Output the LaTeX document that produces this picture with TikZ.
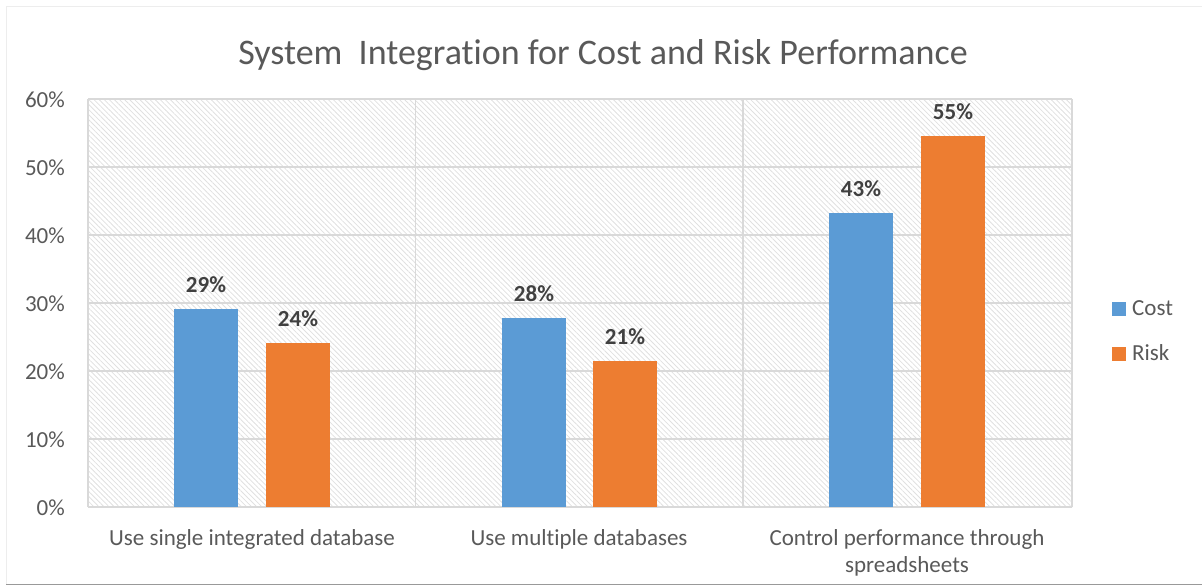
\documentclass[tikz,border=0pt]{standalone}
\usepackage{fontspec}
\setmainfont{Carlito}[Ligatures=NoCommon]
\usetikzlibrary{patterns.meta}
\definecolor{costblue}{HTML}{5B9BD5}
\definecolor{riskorange}{HTML}{ED7D31}
\definecolor{axisgray}{HTML}{595959}
\definecolor{gridgray}{HTML}{D9D9D9}
\definecolor{valgray}{HTML}{404040}
\begin{document}
\begin{tikzpicture}[x=1pt,y=-1pt,
		txt/.style={font=\fontsize{23}{27}\selectfont, text=axisgray, inner sep=0pt},
		val/.style={font=\fontsize{23}{27}\selectfont\bfseries, text=valgray, inner sep=0pt},
		gridline/.style={draw=gridgray, line width=1.5pt}]
			\useasboundingbox (0,0) rectangle (1202,586);
			% chart frame
			\draw[black!7] (6.5,584) -- (6.5,6.5) -- (1202,6.5);
			\draw[black!40, line width=1.5pt] (6,584.5) -- (1202,584.5);
			
			% plot area
			\fill[pattern={Lines[angle=-45,distance=3.6pt,line width=0.8pt]}, pattern color=black!12] (88,99) rectangle (1072,507);
			\draw[gridline] (88,99) -- (1072,99);
			\draw[gridline] (88,167) -- (1072,167);
			\draw[gridline] (88,235) -- (1072,235);
			\draw[gridline] (88,303) -- (1072,303);
			\draw[gridline] (88,371) -- (1072,371);
			\draw[gridline] (88,439) -- (1072,439);
			\draw[gridline] (88,507) -- (1072,507);
			\draw[gridline] (88,99) -- (88,507);
			\draw[gridline] (415.3,99) -- (415.3,507);
			\draw[gridline] (743,99) -- (743,507);
			\draw[gridline] (1072,99) -- (1072,507);
			
			\node[txt, font=\fontsize{36}{40}\selectfont, anchor=base] (title) at (603,64) {System\ \ Integration for Cost and Risk Performance};
			
			\node[txt, anchor=base east] (Y6) at (65,107) {60\%};
			\node[txt, anchor=base east] (Y5) at (65,175) {50\%};
			\node[txt, anchor=base east] (Y4) at (65,243) {40\%};
			\node[txt, anchor=base east] (Y3) at (65,311) {30\%};
			\node[txt, anchor=base east] (Y2) at (65,379) {20\%};
			\node[txt, anchor=base east] (Y1) at (65,447) {10\%};
			\node[txt, anchor=base east] (Y0) at (65,515) {0\%};
			
			% bars
			\fill[costblue] (174,309) rectangle (238,507);
			\fill[riskorange] (266,343) rectangle (330,507);
			\fill[costblue] (502,318) rectangle (566,507);
			\fill[riskorange] (593,361) rectangle (657,507);
			\fill[costblue] (829,213) rectangle (893,507);
			\fill[riskorange] (921,136) rectangle (985,507);
			
			\node[val, anchor=base] (CA) at (206,292) {29\%};
			\node[val, anchor=base] (RA) at (298,326) {24\%};
			\node[val, anchor=base] (CB) at (534,301) {28\%};
			\node[val, anchor=base] (RB) at (625,344) {21\%};
			\node[val, anchor=base] (CC) at (861,196) {43\%};
			\node[val, anchor=base] (RC) at (953,119) {55\%};
			
			\node[txt, anchor=base] (XA) at (252,545) {Use single integrated database};
			\node[txt, anchor=base] (XB) at (579,545) {Use multiple databases};
			\node[txt, anchor=base, align=center] (XC) at (907,572) {Control performance through\\spreadsheets};
			
			% legend
			\fill[costblue] (1112,302) rectangle (1126,316);
			\fill[riskorange] (1112,347) rectangle (1126,361);
			\node[txt, anchor=base west] (LC) at (1132,315) {Cost};
			\node[txt, anchor=base west] (LR) at (1132,360) {Risk};
		    \end{tikzpicture}
\end{document}
